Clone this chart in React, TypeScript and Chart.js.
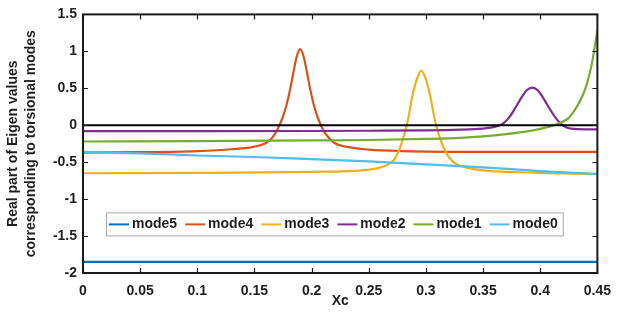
import { useEffect, useRef } from 'react';
import { Chart, registerables } from 'chart.js';

Chart.register(...registerables);

// ---- data ----
const seriesLabels = ['mode5', 'mode4', 'mode3', 'mode2', 'mode1', 'mode0'];
const seriesColors = ['#0072BD', '#D95319', '#EDB120', '#7E2F8E', '#77AC30', '#4DBEEE'];

const xTickValues = [0, 0.05, 0.1, 0.15, 0.2, 0.25, 0.3, 0.35, 0.4, 0.45];
const yTickValues = [-2, -1.5, -1, -0.5, 0, 0.5, 1, 1.5];

const zeroX = [0, 0.45];
const zeroY = [0, 0];

const mode5X = [0, 0.1, 0.2, 0.3, 0.45];
const mode5Y = [-1.85, -1.85, -1.85, -1.85, -1.85];

const mode4X = [0, 0.05, 0.1, 0.13, 0.15, 0.16, 0.165, 0.17, 0.175, 0.178, 0.181, 0.184, 0.187, 0.19, 0.193, 0.196, 0.199, 0.202, 0.205, 0.21, 0.215, 0.22, 0.23, 0.25, 0.28, 0.35, 0.45];
const mode4Y = [-0.37, -0.365, -0.35, -0.325, -0.29, -0.24, -0.18, -0.06, 0.12, 0.27, 0.47, 0.71, 0.93, 1.03, 0.93, 0.71, 0.47, 0.27, 0.12, -0.06, -0.17, -0.24, -0.29, -0.33, -0.35, -0.36, -0.36];

const mode3X = [0, 0.1, 0.2, 0.245, 0.258, 0.266, 0.272, 0.276, 0.28, 0.284, 0.288, 0.292, 0.296, 0.3, 0.304, 0.308, 0.312, 0.316, 0.32, 0.326, 0.335, 0.35, 0.4, 0.45];
const mode3Y = [-0.65, -0.645, -0.63, -0.61, -0.58, -0.54, -0.47, -0.36, -0.18, 0.05, 0.38, 0.62, 0.74, 0.62, 0.38, 0.06, -0.16, -0.32, -0.43, -0.52, -0.57, -0.61, -0.645, -0.66];

const mode2X = [0, 0.1, 0.2, 0.25, 0.3, 0.33, 0.35, 0.358, 0.363, 0.368, 0.373, 0.378, 0.383, 0.388, 0.393, 0.398, 0.403, 0.408, 0.413, 0.418, 0.423, 0.43, 0.44, 0.45];
const mode2Y = [-0.08, -0.08, -0.078, -0.075, -0.07, -0.06, -0.045, -0.03, -0.01, 0.03, 0.11, 0.23, 0.36, 0.47, 0.51, 0.47, 0.36, 0.23, 0.11, 0.02, -0.03, -0.05, -0.055, -0.055];

const mode1X = [0, 0.1, 0.2, 0.25, 0.3, 0.33, 0.35, 0.37, 0.39, 0.4, 0.41, 0.42, 0.425, 0.43, 0.435, 0.44, 0.445, 0.45];
const mode1Y = [-0.22, -0.215, -0.205, -0.2, -0.185, -0.17, -0.15, -0.12, -0.08, -0.05, -0.01, 0.05, 0.1, 0.2, 0.33, 0.52, 0.82, 1.28];

const mode0X = [0, 0.05, 0.1, 0.15, 0.2, 0.25, 0.3, 0.35, 0.4, 0.45];
const mode0Y = [-0.36, -0.38, -0.41, -0.43, -0.46, -0.49, -0.53, -0.57, -0.62, -0.66];

const seriesX = [mode5X, mode4X, mode3X, mode2X, mode1X, mode0X];
const seriesY = [mode5Y, mode4Y, mode3Y, mode2Y, mode1Y, mode0Y];

const FONT = '"Liberation Sans", Arial, Helvetica, sans-serif';
const TEXT = '#1e1e1e';

const zip = (xs: number[], ys: number[]) => xs.map((x, i) => ({ x, y: ys[i] }));

const frameTicksPlugin = {
  id: 'frameTicks',
  afterDraw(chart: any) {
    const { ctx, chartArea } = chart;
    const { left, right, top, bottom } = chartArea;
    const xs = chart.scales.x;
    const ys = chart.scales.y;
    ctx.save();
    ctx.strokeStyle = '#1a1a1a';
    ctx.lineWidth = 1.2;
    const tl = 5;
    ctx.beginPath();
    xTickValues.forEach((v) => {
      const px = Math.round(xs.getPixelForValue(v)) + 0.5;
      ctx.moveTo(px, bottom);
      ctx.lineTo(px, bottom - tl);
      ctx.moveTo(px, top);
      ctx.lineTo(px, top + tl);
    });
    yTickValues.forEach((v) => {
      const py = Math.round(ys.getPixelForValue(v)) + 0.5;
      ctx.moveTo(left, py);
      ctx.lineTo(left + tl, py);
      ctx.moveTo(right, py);
      ctx.lineTo(right - tl, py);
    });
    ctx.stroke();
    ctx.lineWidth = 2;
    ctx.strokeRect(left, top, right - left, bottom - top);
    ctx.restore();
  },
};

const boxLegendPlugin = {
  id: 'boxLegend',
  afterDraw(chart: any) {
    const { ctx, chartArea } = chart;
    ctx.save();
    ctx.font = `bold 14px ${FONT}`;
    const dash = 20;
    const gap = 3;
    const itemGap = 8;
    const boxLeft = chartArea.left + 23;
    const boxTop = chartArea.top + 198;
    const boxH = 23;
    let width = 4;
    const widths = seriesLabels.map((l) => ctx.measureText(l).width);
    widths.forEach((w, i) => {
      width += dash + gap + w + (i < widths.length - 1 ? itemGap : 4);
    });
    ctx.fillStyle = '#ffffff';
    ctx.fillRect(boxLeft, boxTop, width, boxH);
    ctx.strokeStyle = '#a8a8a8';
    ctx.lineWidth = 1;
    ctx.strokeRect(boxLeft + 0.5, boxTop + 0.5, width, boxH);
    let x = boxLeft + 3;
    const cy = boxTop + boxH / 2 + 0.5;
    seriesLabels.forEach((l, i) => {
      ctx.strokeStyle = seriesColors[i];
      ctx.lineWidth = 2;
      ctx.beginPath();
      ctx.moveTo(x, cy);
      ctx.lineTo(x + dash, cy);
      ctx.stroke();
      ctx.fillStyle = TEXT;
      ctx.textBaseline = 'middle';
      ctx.textAlign = 'left';
      ctx.fillText(l, x + dash + gap, cy);
      x += dash + gap + widths[i] + itemGap;
    });
    ctx.restore();
  },
};

export default function App() {
  const ref = useRef<HTMLCanvasElement | null>(null);
  useEffect(() => {
    if (!ref.current) return;
    const datasets: any[] = seriesLabels.map((label, i) => ({
      label,
      data: zip(seriesX[i], seriesY[i]),
      borderColor: seriesColors[i],
      backgroundColor: seriesColors[i],
      borderWidth: 2.2,
      pointRadius: 0,
      cubicInterpolationMode: 'monotone',
      order: seriesLabels.length - i,
    }));
    datasets.push({
      label: 'zero',
      data: zip(zeroX, zeroY),
      borderColor: '#000000',
      borderWidth: 2.2,
      pointRadius: 0,
      order: 0,
    });
    const chart = new Chart(ref.current, {
      type: 'line',
      data: { datasets },
      options: {
        responsive: false,
        animation: false,
        devicePixelRatio: 1,
        layout: { padding: { top: 11, right: 23, left: 0, bottom: 0 } },
        plugins: { legend: { display: false }, tooltip: { enabled: false } },
        scales: {
          x: {
            type: 'linear',
            min: 0,
            max: 0.45,
            afterFit: (s: any) => { s.height = 45; },
            afterBuildTicks: (s: any) => { s.ticks = xTickValues.map((v) => ({ value: v })); },
            grid: { display: false, drawTicks: false },
            border: { display: false },
            ticks: {
              padding: 10,
              maxRotation: 0,
              autoSkip: false,
              color: TEXT,
              font: { family: FONT, size: 14, weight: 'bold' },
              callback: (v: any) => String(Number(Number(v).toFixed(2))),
            },
            title: {
              display: true,
              text: 'Xc',
              color: TEXT,
              font: { family: FONT, size: 14, weight: 'bold' },
              padding: { top: 0, bottom: 8 },
            },
          },
          y: {
            type: 'linear',
            min: -2,
            max: 1.5,
            afterFit: (s: any) => { s.width = 83; },
            afterBuildTicks: (s: any) => { s.ticks = yTickValues.map((v) => ({ value: v })); },
            grid: { display: false, drawTicks: false },
            border: { display: false },
            ticks: {
              padding: 6,
              autoSkip: false,
              color: TEXT,
              font: { family: FONT, size: 14, weight: 'bold' },
              callback: (v: any) => String(Number(Number(v).toFixed(2))),
            },
            title: {
              display: true,
              text: ['Real part of Eigen values', 'corresponding to torsional modes'],
              color: TEXT,
              font: { family: FONT, size: 14, weight: 'bold', lineHeight: 1.3 },
              padding: { top: 4, bottom: 0 },
            },
          },
        },
      },
      plugins: [frameTicksPlugin, boxLegendPlugin],
    } as any);
    return () => chart.destroy();
  }, []);
  return (
    <div style={{ position: 'absolute', left: 0, top: 0, width: 621, height: 318, background: '#fff' }}>
      <canvas ref={ref} width={621} height={318} style={{ display: 'block' }} />
    </div>
  );
}
